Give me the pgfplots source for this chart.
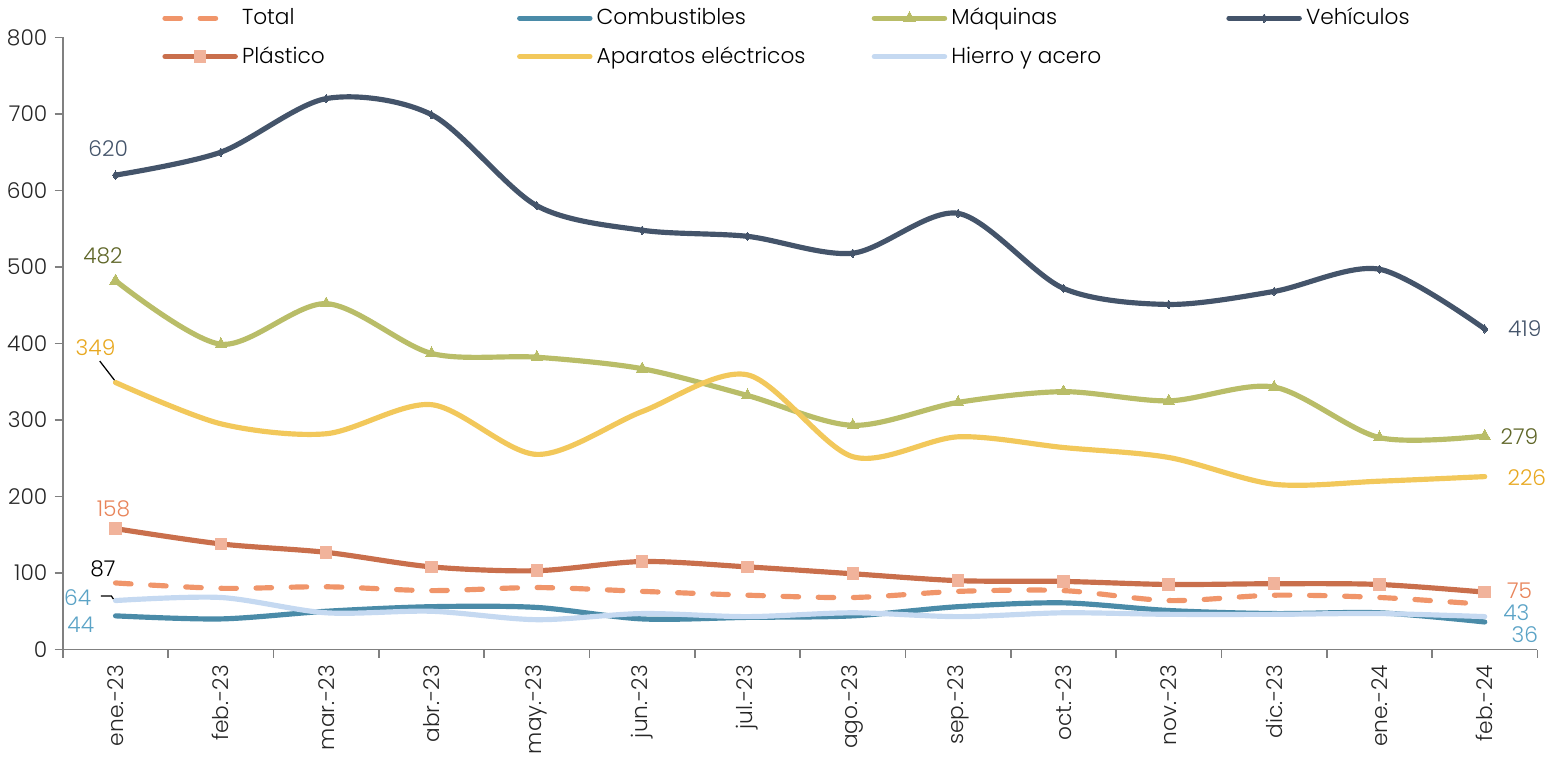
\documentclass[border=0pt]{standalone}
\usepackage{pgfplots}
\pgfplotsset{compat=1.18}
\usepackage{fontspec}
\setmainfont{Poppins}[UprightFont=* Light]

\definecolor{cTotal}{HTML}{F0956A}
\definecolor{cComb}{HTML}{4A8BA8}
\definecolor{cMaq}{HTML}{B9BD68}
\definecolor{cVeh}{HTML}{44546A}
\definecolor{cPla}{HTML}{C96F4C}
\definecolor{cPlaM}{HTML}{F1B39B}
\definecolor{cApa}{HTML}{F2C85B}
\definecolor{cHie}{HTML}{C5D9F1}
\definecolor{lMaq}{HTML}{5F6628}
\definecolor{lApa}{HTML}{E8A820}
\definecolor{lPla}{HTML}{E8845A}
\definecolor{lBlue}{HTML}{5BA3C6}

\newcommand{\lf}{\fontsize{10.5}{12.5}\selectfont}

\begin{document}
\begin{tikzpicture}
\begin{axis}[
    scale only axis,
    width=713pt, height=296pt,
    xmin=-0.5, xmax=13.5,
    ymin=0, ymax=800,
    ytick={0,100,...,800},
    xtick={0,...,13},
    xticklabels={ene.-23,feb.-23,mar.-23,abr.-23,may.-23,jun.-23,jul.-23,ago.-23,sep.-23,oct.-23,nov.-23,dic.-23,ene.-24,feb.-24},
    minor xtick={-0.5,0.5,...,13.5},
    major x tick style={draw=none},
    axis x line*=bottom, axis y line*=left,
    axis line style={draw=gray, line width=0.8pt},
    every tick/.style={gray, line width=0.8pt},
    tick align=outside,
    major tick length=4pt, minor tick length=4pt,
    x tick label style={rotate=90, anchor=east},
    tick label style={font=\lf, text=black!85},
    /pgf/number format/assume math mode=true,
    clip=false,
    legend columns=4,
    legend cell align=left,
    legend style={draw=none, fill=none, font=\lf, at={(axis description cs:0.063,1.0)}, anchor=west,
        /tikz/every even column/.append style={column sep=0pt},
        /tikz/every odd row/.append style={row sep=5pt}},
    legend image code/.code={\draw[mark repeat=2,mark phase=2,#1] plot coordinates {(0pt,0pt) (17pt,0pt) (34pt,0pt)};},
    every axis plot/.append style={smooth, line width=2.5pt, line cap=round},
]

\addplot[cTotal, dash pattern=on 7.5pt off 9.5pt] coordinates {
(0,87)(1,80)(2,82)(3,77)(4,81)(5,76)(6,71)(7,68)(8,76)(9,77)(10,64)(11,71)(12,68)(13,59)};
\addlegendentry{\makebox[131pt][l]{Total}}

\addplot[cComb] coordinates {
(0,44)(1,40)(2,50)(3,56)(4,55)(5,40)(6,42)(7,44)(8,56)(9,61)(10,51)(11,47)(12,48)(13,36)};
\addlegendentry{\makebox[131pt][l]{Combustibles}}

\addplot[cMaq, mark=triangle*, mark size=3.2pt, mark options={solid, fill=cMaq, draw=cMaq, line width=0pt}] coordinates {
(0,482)(1,399)(2,452)(3,387)(4,382)(5,367)(6,332)(7,293)(8,323)(9,337)(10,325)(11,343)(12,277)(13,279)};
\addlegendentry{\makebox[131pt][l]{Máquinas}}

\addplot[cVeh, mark=diamond*, mark size=2pt, mark options={solid, fill=cVeh, draw=cVeh, line width=0pt}] coordinates {
(0,620)(1,650)(2,720)(3,699)(4,580)(5,548)(6,540)(7,518)(8,570)(9,472)(10,451)(11,468)(12,497)(13,419)};
\addlegendentry{Vehículos}

\addplot[cPla, mark=square*, mark size=2.8pt, mark options={solid, fill=cPlaM, draw=cPlaM, line width=0pt}] coordinates {
(0,158)(1,138)(2,127)(3,108)(4,103)(5,115)(6,108)(7,99)(8,90)(9,89)(10,85)(11,86)(12,85)(13,75)};
\addlegendentry{\makebox[131pt][l]{Plástico}}

\addplot[cApa] coordinates {
(0,349)(1,295)(2,282)(3,320)(4,255)(5,311)(6,359)(7,252)(8,278)(9,264)(10,251)(11,216)(12,220)(13,226)};
\addlegendentry{\makebox[131pt][l]{Aparatos eléctricos}}

\addplot[cHie] coordinates {
(0,64)(1,68)(2,48)(3,50)(4,39)(5,47)(6,43)(7,48)(8,43)(9,48)(10,46)(11,46)(12,47)(13,43)};
\addlegendentry{\makebox[131pt][l]{Hierro y acero}}

% data labels
\node[font=\lf, text=cVeh] at (axis cs:-0.07,655) {620};
\node[font=\lf, text=lMaq] at (axis cs:-0.12,515) {482};
\node[font=\lf, text=lApa] at (axis cs:-0.19,395) {349};
\draw[black, line width=0.6pt] (axis cs:-0.15,377) -- (axis cs:-0.01,352);
\node[font=\lf, text=lPla] at (axis cs:-0.02,184) {158};
\node[font=\lf, text=black] at (axis cs:-0.12,105) {87};
\node[font=\lf, text=lBlue] at (axis cs:-0.36,68) {64};
\draw[black, line width=0.6pt] (axis cs:-0.14,70) -- (axis cs:-0.04,70) -- (axis cs:-0.02,66);
\node[font=\lf, text=lBlue] at (axis cs:-0.33,33) {44};
\node[font=\lf, text=cVeh] at (axis cs:13.38,420) {419};
\node[font=\lf, text=lMaq] at (axis cs:13.33,278) {279};
\node[font=\lf, text=lApa] at (axis cs:13.4,225) {226};
\node[font=\lf, text=lPla] at (axis cs:13.33,77) {75};
\node[font=\lf, text=lBlue] at (axis cs:13.3,48) {43};
\node[font=\lf, text=lBlue] at (axis cs:13.38,20) {36};
\end{axis}
\end{tikzpicture}
\end{document}
